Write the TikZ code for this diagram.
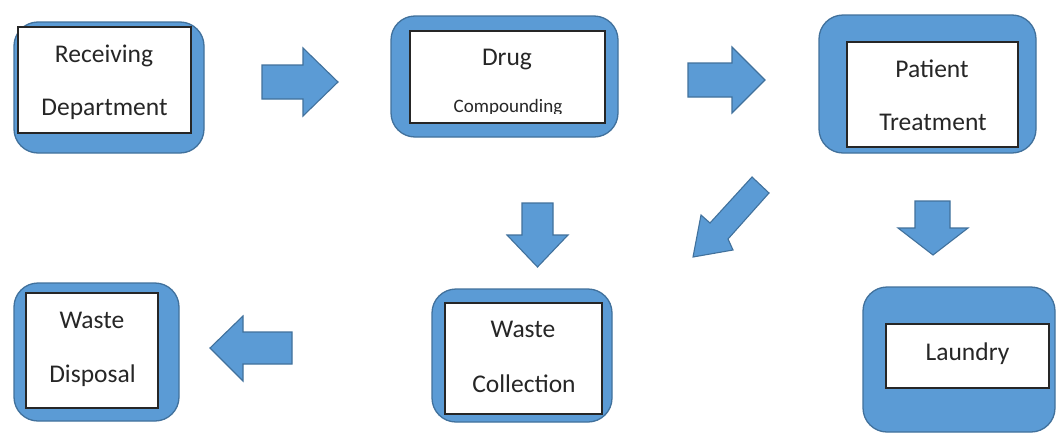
\documentclass[tikz,border=0pt]{standalone}
\usepackage{fontspec}
\setmainfont{Carlito}
\definecolor{boxblue}{HTML}{5B9BD5}
\definecolor{edgeblue}{HTML}{41719C}
\definecolor{inkgray}{HTML}{262626}
\begin{document}
\begin{tikzpicture}[x=1pt,y=-1pt,
  outerbox/.style={draw=edgeblue,fill=boxblue,line width=1.3pt,rounded corners=24pt,inner sep=0pt,outer sep=0pt},
  innerbox/.style={draw=inkgray,fill=white,line width=1.2pt,inner sep=0pt,outer sep=0pt},
  lbl/.style={anchor=base,inner sep=0pt,text=inkgray,font=\fontsize{25.5}{30}\selectfont},
  smalllbl/.style={anchor=base,inner sep=0pt,text=inkgray,font=\fontsize{19}{23}\selectfont},
  blockarrow/.style={draw=edgeblue,fill=boxblue,line width=1.1pt,line join=miter}]
\useasboundingbox[fill=white] (0,0) rectangle (1056,434);

% Receiving Department
\node[outerbox,minimum width=190pt,minimum height=131pt] (rcvO) at (109,87.5) {};
\node[innerbox,minimum width=173pt,minimum height=106pt] (rcvI) at (104.5,80) {};
\node[lbl] (rcvA) at (104,62) {Receiving};
\node[lbl] (rcvB) at (104.5,115) {Department};

% Drug Compounding
\node[outerbox,minimum width=227pt,minimum height=121pt] (drgO) at (504.5,76.5) {};
\node[innerbox,minimum width=195pt,minimum height=92pt] (drgI) at (507.5,77) {};
\node[lbl] (drgA) at (507,65) {Drug};
\begin{scope}
  \clip (411,32) rectangle (604,113);
  \node[smalllbl] (drgB) at (508,112) {Compounding};
\end{scope}

% Patient Treatment
\node[outerbox,minimum width=217pt,minimum height=138pt] (patO) at (927.5,84) {};
\node[innerbox,minimum width=171pt,minimum height=105pt] (patI) at (932.5,94.5) {};
\node[lbl] (patA) at (932,77) {Patient};
\node[lbl] (patB) at (933,130) {Treatment};

% Waste Disposal
\node[outerbox,minimum width=165pt,minimum height=138pt] (dspO) at (96.5,352) {};
\node[innerbox,minimum width=132pt,minimum height=115pt] (dspI) at (92,350.5) {};
\node[lbl] (dspA) at (92,328) {Waste};
\node[lbl] (dspB) at (92.5,382) {Disposal};

% Waste Collection
\node[outerbox,minimum width=180pt,minimum height=133pt] (colO) at (522,355.5) {};
\node[innerbox,minimum width=157pt,minimum height=111pt] (colI) at (523.5,358.5) {};
\node[lbl] (colA) at (523,337) {Waste};
\node[lbl] (colB) at (524,392) {Collection};

% Laundry
\node[outerbox,minimum width=192pt,minimum height=145pt] (lauO) at (959,359.5) {};
\node[innerbox,minimum width=163pt,minimum height=64pt] (lauI) at (967.5,356) {};
\node[lbl] (lauA) at (967.5,360) {Laundry};

% block arrows
\draw[blockarrow] (262,65)--(303,65)--(303,48)--(338,82)--(303,116)--(303,99)--(262,99)--cycle;
\draw[blockarrow] (688,63)--(732,63)--(732,47)--(765,80)--(732,113)--(732,97)--(688,97)--cycle;
\draw[blockarrow] (522,203)--(553,203)--(553,235)--(568,235)--(537.5,267)--(507,235)--(522,235)--cycle;
\draw[blockarrow] (915,201)--(950,201)--(950,228)--(968,228)--(933,255)--(898,228)--(915,228)--cycle;
\draw[blockarrow] (292,332)--(243,332)--(243,316)--(210,348)--(243,381)--(243,364)--(292,364)--cycle;
\draw[blockarrow] (693,257)--(701,215)--(710,223)--(752,177)--(769,193)--(728,239)--(733,250)--cycle;
\end{tikzpicture}
\end{document}
